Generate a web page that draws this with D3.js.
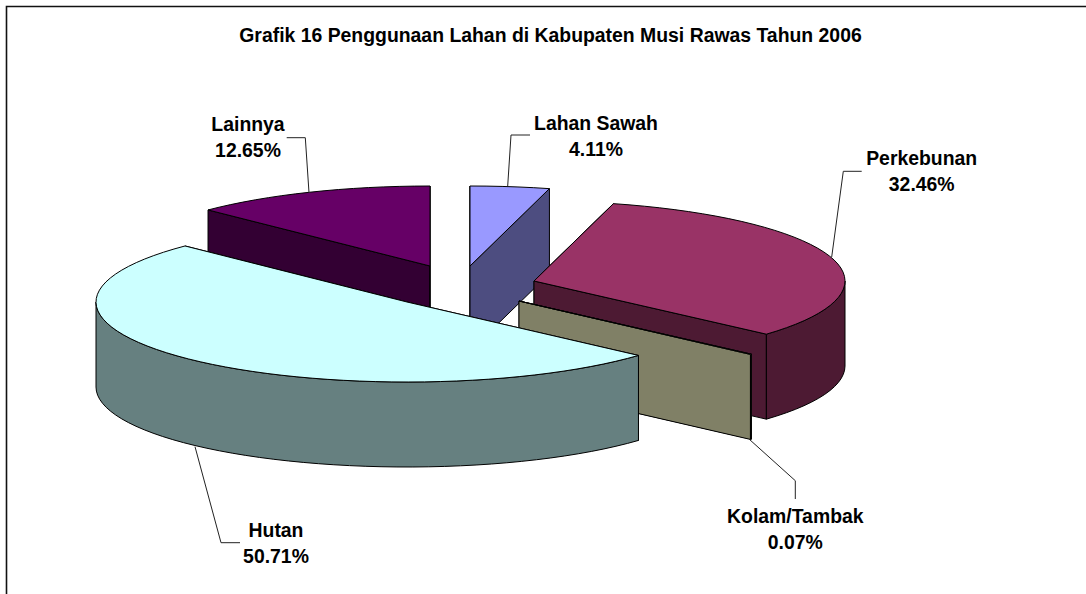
<!DOCTYPE html>
<html>
<head>
<meta charset="utf-8">
<script src="https://cdnjs.cloudflare.com/ajax/libs/d3/7.8.5/d3.min.js"></script>
<style>
html,body{margin:0;padding:0;background:#fff;}
svg{display:block;}
text{font-family:"Liberation Sans",Arial,sans-serif;font-weight:bold;fill:#000;}
</style>
</head>
<body>
<script>
// Data (clockwise from 12 o'clock)
const titleText = "Grafik 16 Penggunaan Lahan di Kabupaten Musi Rawas Tahun 2006";
const categories = ["Lahan Sawah", "Perkebunan", "Kolam/Tambak", "Hutan", "Lainnya"];
const values = [4.11, 32.46, 0.07, 50.71, 12.65];
const topColors = ["#9999FF", "#993366", "#FFFFCC", "#CCFFFF", "#660066"];
const sideColors = ["#4D4D80", "#4D1A33", "#808066", "#668080", "#330033"];

// Layout
const W = 1086, H = 594;
const RX = 311, RY = 80, DEPTH = 85;
const apexes = [[470,266],[534,281],[519,301],[407,302],[430,266]];
const drawOrder = [4,0,1,2,3];
const leaders = [
  [[530,135],[511,135],[507.7,186]],
  [[861.7,171.3],[843.3,171.3],[831.7,257]],
  [[749.3,439.3],[795.3,480.7],[795.3,499]],
  [[195,446.7],[221,542.7],[240,542.7]],
  [[286.7,137.7],[305.3,137.7],[309,192.7]]
];
const labelPos = [[596,129.5],[921.7,165],[795.3,523],[276,536.7],[248,131]];
const LABEL_GAP = 26, FONT = 19.4;

const svg = d3.select("body").append("svg").attr("width",W).attr("height",H);

// chart frame: top and left edges only
svg.append("path").attr("d","M6.5,594V6.5H1086").attr("fill","none").attr("stroke","#111").attr("stroke-width",1.6);

svg.append("text").attr("x",550.5).attr("y",42).attr("text-anchor","middle")
  .attr("font-size",FONT).text(titleText);

const arcs = d3.pie().sort(null).value(d=>d)(values);
const line = d3.line();
const proj = (a, th) => [a[0] + RX*Math.sin(th), a[1] - RY*Math.cos(th)];
const down = p => [p[0], p[1] + DEPTH];
const samples = (a0, a1) => {
  const n = Math.max(1, Math.ceil((a1-a0)/(Math.PI/60)));
  return d3.range(n+1).map(i => a0 + (a1-a0)*i/n);
};

const faces = svg.append("g").attr("stroke","#000").attr("stroke-width",1).attr("stroke-linejoin","round");

drawOrder.forEach(i => {
  const a = apexes[i], s = arcs[i].startAngle, e = arcs[i].endAngle;
  const g = faces.append("g");
  [s, e].forEach(th => {
    const p = proj(a, th);
    g.append("path").attr("fill",sideColors[i])
      .attr("d", line([a, p, down(p), down(a)]) + "Z");
  });
  const r0 = Math.max(s, Math.PI/2), r1 = Math.min(e, 3*Math.PI/2);
  if (r1 > r0) {
    const rim = samples(r0, r1).map(th => proj(a, th));
    g.append("path").attr("fill",sideColors[i])
      .attr("d", line(rim.concat(rim.map(down).reverse())) + "Z");
  }
  const top = [a].concat(samples(s, e).map(th => proj(a, th)));
  g.append("path").attr("fill",topColors[i]).attr("d", line(top) + "Z");
});

svg.append("g").selectAll("path").data(leaders).join("path")
  .attr("d", d => line(d)).attr("fill","none").attr("stroke","#222").attr("stroke-width",1);

categories.forEach((c,i) => {
  const [x,y] = labelPos[i];
  svg.append("text").attr("x",x).attr("y",y).attr("text-anchor","middle").attr("font-size",FONT).text(c);
  svg.append("text").attr("x",x).attr("y",y+LABEL_GAP).attr("text-anchor","middle").attr("font-size",FONT)
    .text(d3.format(".2f")(values[i]) + "%");
});
</script>
</body>
</html>
